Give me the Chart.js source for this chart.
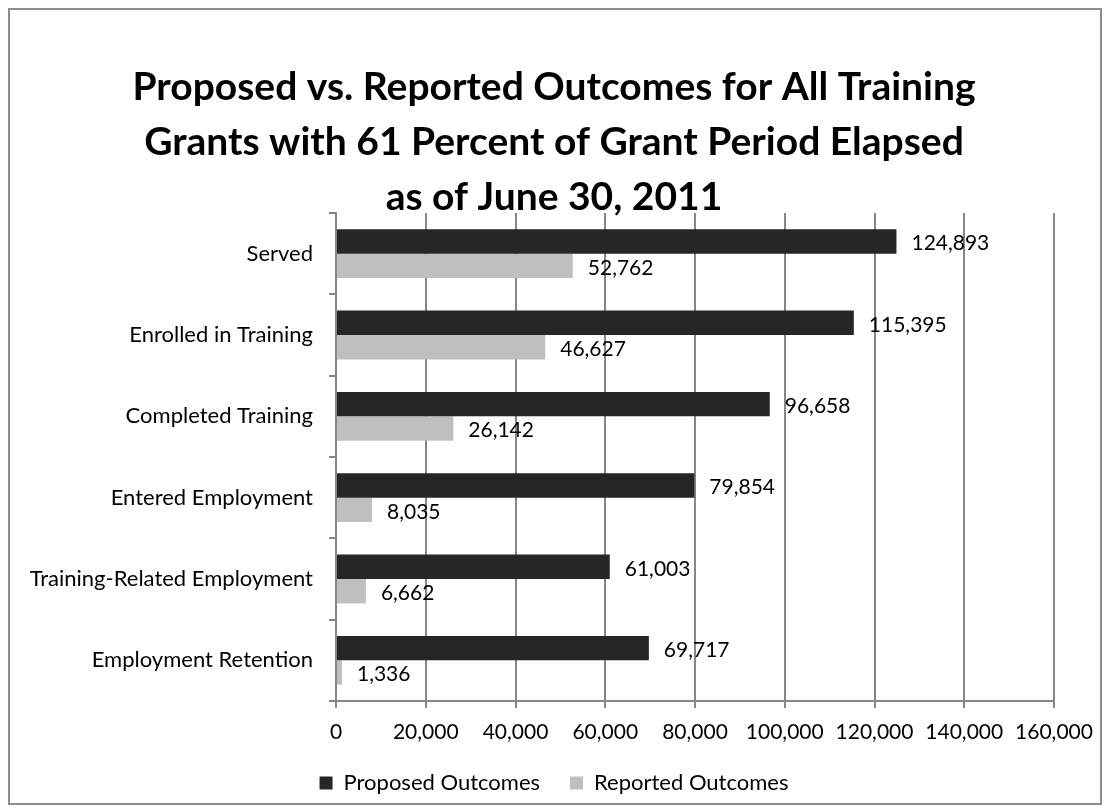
<!DOCTYPE html>
<html>
<head>
<meta charset="utf-8">
<script src="https://cdn.jsdelivr.net/npm/chart.js@4/dist/chart.umd.min.js"></script>
<style>
    html, body { margin: 0; padding: 0; background: #fff; }
    #wrap { position: relative; width: 1109px; height: 812px; }
    #frame { position: absolute; left: 8px; top: 8px; width: 1090px; height: 793px; border: 2px solid #8c8c8c; pointer-events: none; }
</style>
</head>
<body>
<div id="wrap">
    <canvas id="outcomesChart" width="1109" height="812"></canvas>
    <div id="frame"></div>
</div>
<script>
const categories = ["Served", "Enrolled in Training", "Completed Training", "Entered Employment", "Training-Related Employment", "Employment Retention"];
const proposedOutcomes = [124893, 115395, 96658, 79854, 61003, 69717];
const reportedOutcomes = [52762, 46627, 26142, 8035, 6662, 1336];
const seriesNames = ["Proposed Outcomes", "Reported Outcomes"];
const xTicks = [0, 20000, 40000, 60000, 80000, 100000, 120000, 140000, 160000];

const FONT = "Lato, 'Open Sans', sans-serif";
const fmt = v => Number(v).toLocaleString('en-US');

// Etiquetas de valor a la derecha de cada barra
const valueLabels = {
    id: 'valueLabels',
    afterDatasetsDraw(chart) {
        const ctx = chart.ctx;
        ctx.save();
        ctx.font = "21px " + FONT;
        ctx.fillStyle = "#000";
        ctx.textAlign = "left";
        ctx.textBaseline = "middle";
        chart.data.datasets.forEach((ds, i) => {
            chart.getDatasetMeta(i).data.forEach((bar, j) => {
                ctx.fillText(fmt(ds.data[j]), bar.x + 15, bar.y + 2);
            });
        });
        ctx.restore();
    }
};

var ctx = document.getElementById('outcomesChart').getContext('2d');
var outcomesChart = new Chart(ctx, {
    type: 'bar',
    data: {
        labels: categories,
        datasets: [{
            label: seriesNames[0],
            data: proposedOutcomes,
            backgroundColor: '#262626',
            barPercentage: 1,
            categoryPercentage: 0.6
        }, {
            label: seriesNames[1],
            data: reportedOutcomes,
            backgroundColor: '#bfbfbf',
            barPercentage: 1,
            categoryPercentage: 0.6
        }]
    },
    options: {
        indexAxis: 'y',
        responsive: false,
        animation: false,
        layout: { padding: { top: 0, right: 28, left: 27, bottom: 8 } },
        plugins: {
            title: {
                display: true,
                text: ["Proposed vs. Reported Outcomes for All Training", "Grants with 61 Percent of Grant Period Elapsed", "as of June 30, 2011"],
                color: '#000',
                font: { family: FONT, size: 39, weight: 'bold', lineHeight: '55px' },
                padding: { top: 60, bottom: -12 }
            },
            legend: {
                position: 'bottom',
                labels: {
                    color: '#000',
                    font: { family: FONT, size: 22 },
                    boxWidth: 13,
                    boxHeight: 13,
                    padding: 30
                }
            },
            tooltip: { enabled: false }
        },
        scales: {
            x: {
                min: 0,
                max: 160000,
                afterBuildTicks: (scale) => { scale.ticks = xTicks.map(v => ({ value: v })); },
                afterFit: (scale) => { scale.height = 41; },
                ticks: {
                    color: '#000',
                    font: { family: FONT, size: 21, lineHeight: 1 },
                    padding: 14,
                    maxRotation: 0,
                    callback: (value) => fmt(value)
                },
                grid: { color: '#868686', lineWidth: 2, tickLength: 7 },
                border: { color: '#868686', width: 2 }
            },
            y: {
                afterFit: (scale) => { scale.width = 309; },
                ticks: {
                    color: '#000',
                    font: { family: FONT, size: 22 },
                    padding: 16
                },
                grid: { drawOnChartArea: false, offset: true, color: '#868686', lineWidth: 2, tickLength: 7 },
                border: { color: '#868686', width: 2 }
            },
            // espacio vacío a la derecha para el último rótulo del eje x
            yRight: {
                type: 'category',
                position: 'right',
                afterFit: (scale) => { scale.width = 27; },
                ticks: { display: false },
                grid: { display: false },
                border: { display: false }
            }
        }
    },
    plugins: [valueLabels]
});
</script>
</body>
</html>
